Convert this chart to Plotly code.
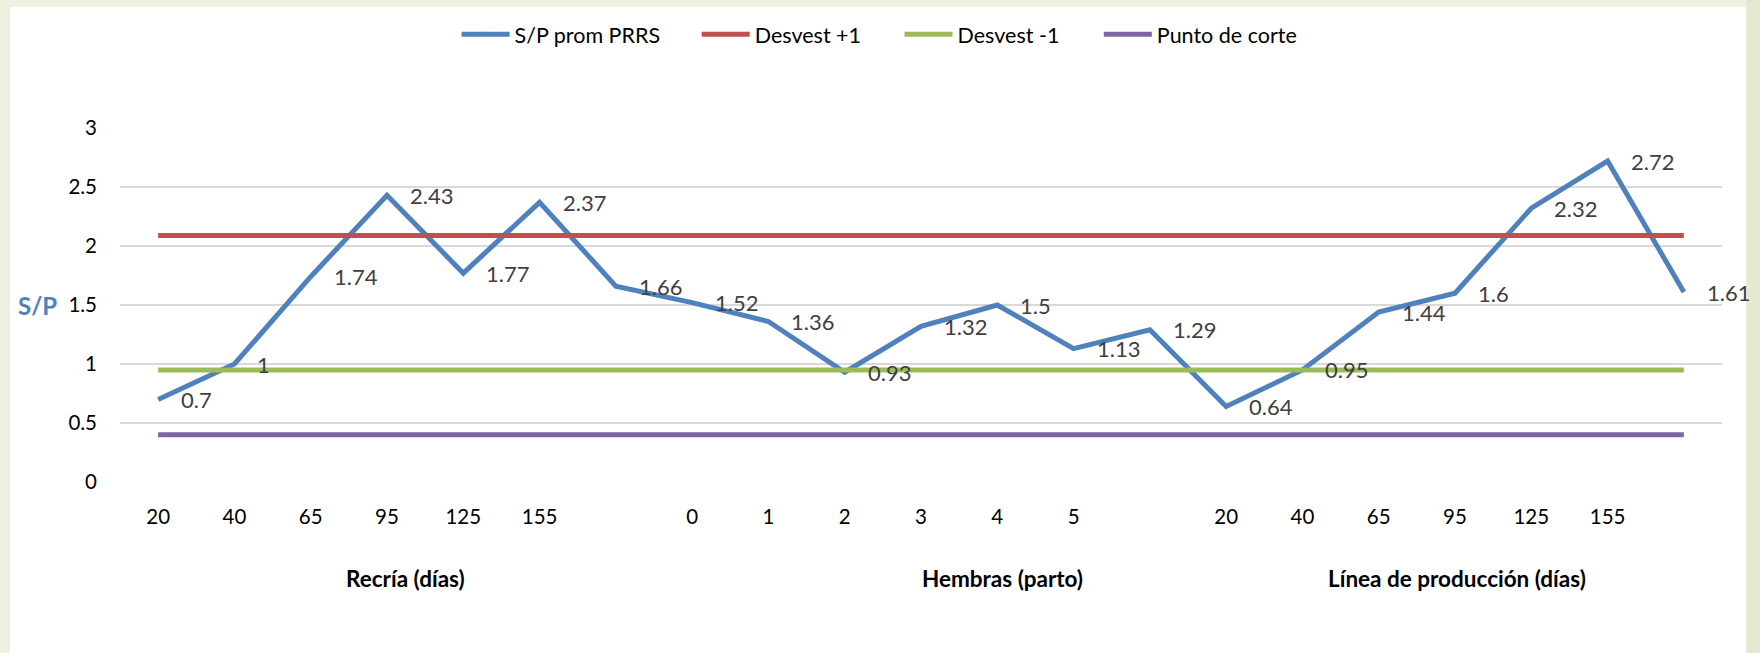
import plotly.graph_objects as go

# Category axis: three groups of sampling points, with an empty slot after each group
tick_labels = ["20", "40", "65", "95", "125", "155", "",
               "0", "1", "2", "3", "4", "5", "",
               "20", "40", "65", "95", "125", "155", ""]
group_labels = ["Recría (días)", "Hembras (parto)", "Línea de producción (días)"]
group_centers = [3.24, 11.07, 17.02]

sp_prom = [0.7, 1, 1.74, 2.43, 1.77, 2.37, 1.66,
           1.52, 1.36, 0.93, 1.32, 1.5, 1.13, 1.29,
           0.64, 0.95, 1.44, 1.6, 2.32, 2.72, 1.61]
desvest_pos = [2.09, 2.09, 2.09, 2.09, 2.09, 2.09, 2.09,
               2.09, 2.09, 2.09, 2.09, 2.09, 2.09, 2.09,
               2.09, 2.09, 2.09, 2.09, 2.09, 2.09, 2.09]
desvest_neg = [0.95, 0.95, 0.95, 0.95, 0.95, 0.95, 0.95,
               0.95, 0.95, 0.95, 0.95, 0.95, 0.95, 0.95,
               0.95, 0.95, 0.95, 0.95, 0.95, 0.95, 0.95]
punto_corte = [0.4, 0.4, 0.4, 0.4, 0.4, 0.4, 0.4,
               0.4, 0.4, 0.4, 0.4, 0.4, 0.4, 0.4,
               0.4, 0.4, 0.4, 0.4, 0.4, 0.4, 0.4]

x_idx = list(range(len(tick_labels)))
FONT = "Lato, 'Open Sans', sans-serif"

# one legend box per series so each entry sits at its own spot in the header row
series = [
    ("S/P prom PRRS", sp_prom, "#4F81BD", "legend", 0.2101),
    ("Desvest +1", desvest_pos, "#C0504D", "legend2", 0.3600),
    ("Desvest -1", desvest_neg, "#9BBB59", "legend3", 0.4866),
    ("Punto de corte", punto_corte, "#8064A2", "legend4", 0.6110),
]

fig = go.Figure()
legend_layout = {}
for name, vals, color, leg, lx in series:
    fig.add_trace(go.Scatter(
        x=x_idx, y=vals, name=name, mode="lines",
        line=dict(color=color, width=5),
        hoverinfo="skip", legend=leg,
    ))
    legend_layout[leg] = dict(
        orientation="h", x=lx, xanchor="left", y=1.265, yanchor="middle",
        font=dict(family=FONT, size=21.5, color="#000000"),
        bgcolor="rgba(0,0,0,0)", itemwidth=48, borderwidth=0,
    )

annotations = []
# value labels to the right of each point of the main series
for xi, v in zip(x_idx, sp_prom):
    annotations.append(dict(
        x=xi, y=v, xref="x", yref="y", text=f"{v:g}", showarrow=False,
        xanchor="left", yanchor="middle", xshift=21,
        font=dict(family=FONT, size=22, color="#404040"),
    ))
# group captions under the category labels
for lbl, cx in zip(group_labels, group_centers):
    annotations.append(dict(
        x=cx, y=-0.273, xref="x", yref="paper", text=f"<b>{lbl}</b>",
        showarrow=False, xanchor="center", yanchor="middle",
        font=dict(family=FONT, size=22.5, color="#000000"),
    ))
# vertical axis caption
annotations.append(dict(
    x=-0.0518, y=1.5, xref="paper", yref="y", text="<b>S/P</b>",
    showarrow=False, xanchor="center", yanchor="middle",
    font=dict(family=FONT, size=24, color="#4F81BD"),
))

shapes = [
    # white chart area on the tinted page background
    dict(type="rect", xref="paper", yref="paper", x0=-0.0687, x1=1.0152,
         y0=-0.6, y1=1.3424, fillcolor="white", line=dict(width=0), layer="below"),
    # greener strip along the right edge
    dict(type="rect", xref="paper", yref="paper", x0=1.0152, x1=1.05,
         y0=-0.6, y1=1.5, fillcolor="#E3EAD0", line=dict(width=0), layer="below"),
]

fig.update_layout(
    width=1760, height=653,
    margin=dict(l=120, r=38, t=128, b=171),
    paper_bgcolor="#EDF1E0",
    plot_bgcolor="rgba(0,0,0,0)",
    font=dict(family=FONT, size=20, color="#000000"),
    showlegend=True,
    xaxis=dict(
        range=[-0.5, 20.5], tickmode="array", tickvals=x_idx, ticktext=tick_labels,
        showgrid=False, zeroline=False, showline=False, ticks="",
        ticklabelstandoff=20, tickfont=dict(family=FONT, size=20.5, color="#000000"),
    ),
    yaxis=dict(
        range=[0, 3], tickmode="array", tickvals=[0, 0.5, 1, 1.5, 2, 2.5, 3],
        ticktext=["0", "0.5", "1", "1.5", "2", "2.5", "3"],
        showgrid=True, gridcolor="#D9D9D9", gridwidth=2,
        zeroline=False, showline=False, ticks="",
        ticklabelstandoff=22, tickfont=dict(family=FONT, size=20.5, color="#000000"),
    ),
    annotations=annotations,
    shapes=shapes,
    **legend_layout,
)

fig.write_html("out.html")
